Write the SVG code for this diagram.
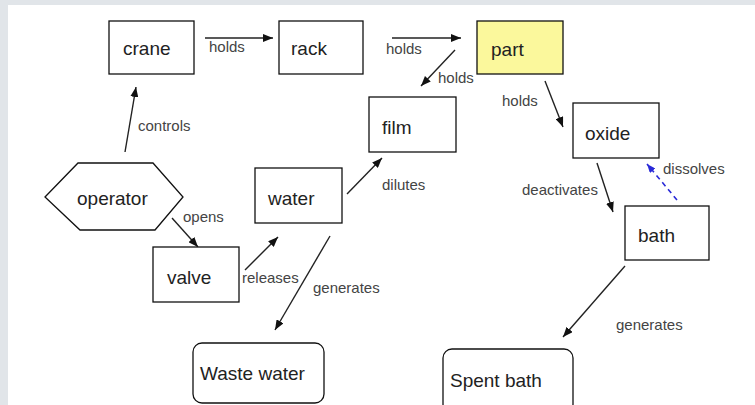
<svg xmlns="http://www.w3.org/2000/svg" width="755" height="405" viewBox="0 0 755 405">
<style>
.box{fill:#fff;stroke:#111;stroke-width:1.3}
.nt{font-family:"Liberation Sans",Arial,sans-serif;font-size:19px;fill:#222}
.lt{font-family:"Liberation Sans",Arial,sans-serif;font-size:15px;fill:#444}
.e{stroke:#222;stroke-width:1.4;fill:none;marker-end:url(#ah)}
.d{stroke:#2a2ad8;stroke-width:1.6;fill:none;stroke-dasharray:5 4;marker-end:url(#ab)}
</style>
<defs>
<marker id="ah" viewBox="0 0 10 8" refX="10" refY="4" markerWidth="10" markerHeight="8" markerUnits="userSpaceOnUse" orient="auto"><path d="M0,0 L10,4 L0,8 z" fill="#111"/></marker>
<marker id="ab" viewBox="0 0 10 8" refX="10" refY="4" markerWidth="9" markerHeight="7" markerUnits="userSpaceOnUse" orient="auto"><path d="M0,0 L10,4 L0,8 z" fill="#2a2ad8"/></marker>
</defs>
<rect x="0" y="0" width="755" height="405" fill="#e1e5e9"/>
<rect x="8" y="5" width="747" height="400" fill="#fff"/>
<g id="connectors">
<line class="e" x1="205" y1="38" x2="273" y2="38"/>
<text class="lt" x="209" y="52">holds</text>
<line class="e" x1="392" y1="38" x2="461" y2="38"/>
<text class="lt" x="386" y="54">holds</text>
<line class="e" x1="455" y1="50" x2="421" y2="86"/>
<text class="lt" x="438" y="83">holds</text>
<line class="e" x1="545" y1="81" x2="563" y2="127"/>
<text class="lt" x="502" y="106">holds</text>
<line class="e" x1="125" y1="152" x2="136" y2="87"/>
<text class="lt" x="138" y="131">controls</text>
<line class="e" x1="172" y1="218" x2="198" y2="247"/>
<text class="lt" x="183" y="222">opens</text>
<line class="e" x1="245" y1="270" x2="278" y2="237"/>
<text class="lt" x="242" y="283">releases</text>
<line class="e" x1="347" y1="194" x2="382" y2="158"/>
<text class="lt" x="382" y="190">dilutes</text>
<line class="e" x1="330" y1="236" x2="275" y2="330"/>
<text class="lt" x="313" y="293">generates</text>
<line class="e" x1="597" y1="163" x2="613" y2="212"/>
<text class="lt" x="522" y="195">deactivates</text>
<line class="d" x1="677" y1="200" x2="647" y2="164"/>
<text class="lt" x="663" y="174">dissolves</text>
<line class="e" x1="625" y1="266" x2="563" y2="337"/>
<text class="lt" x="616" y="330">generates</text>
</g>
<g id="crane"><rect class="box" x="109" y="21" width="85" height="53"/><text class="nt" x="123" y="55">crane</text></g>
<g id="rack"><rect class="box" x="279" y="21" width="84" height="53"/><text class="nt" x="291" y="55">rack</text></g>
<g id="part"><rect class="box" x="477" y="21" width="86" height="53" style="fill:#fbf89c"/><text class="nt" x="491" y="56">part</text></g>
<g id="film"><rect class="box" x="369" y="97" width="87" height="55"/><text class="nt" x="382" y="134">film</text></g>
<g id="oxide"><rect class="box" x="573" y="103" width="86" height="55"/><text class="nt" x="585" y="140">oxide</text></g>
<g id="operator"><polygon class="box" points="45,197 78,163 153,163 183,197 155,230 80,230"/><text class="nt" x="77" y="205">operator</text></g>
<g id="water"><rect class="box" x="255" y="168" width="87" height="55"/><text class="nt" x="268" y="205">water</text></g>
<g id="valve"><rect class="box" x="153" y="247" width="86" height="55"/><text class="nt" x="167" y="284">valve</text></g>
<g id="bath"><rect class="box" x="625" y="206" width="84" height="54"/><text class="nt" x="638" y="242">bath</text></g>
<g id="waste_water"><rect class="box" x="193" y="343" width="131" height="60" rx="9"/><text class="nt" x="200" y="380">Waste water</text></g>
<g id="spent_bath"><rect class="box" x="443" y="349" width="130" height="64" rx="9"/><text class="nt" x="450" y="387">Spent bath</text></g>
</svg>
